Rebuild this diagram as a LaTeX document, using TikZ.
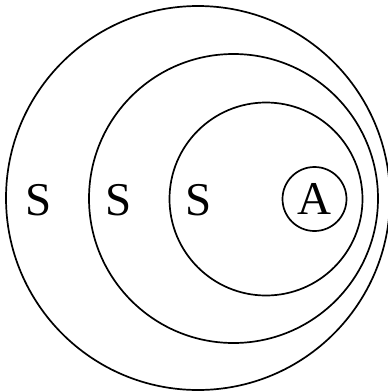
\documentclass[tikz,border=0pt]{standalone}
\usepackage{fontspec}
\setmainfont{Liberation Serif}
\begin{document}
\begin{tikzpicture}[x=1pt, y=-1pt, line width=1.7pt,
    ring/.style={draw, circle, inner sep=0pt},
    letter/.style={font=\fontsize{47}{47}\selectfont, inner sep=0pt}]
    \useasboundingbox (0,0) rectangle (388,392);

    % Kreise
    \node[ring, minimum size=384pt] (outer) at (198,198) {};
    \node[ring, minimum size=289pt] (middle) at (233.5,198.5) {};
    \node[ring, minimum size=193pt] (inner) at (266,199) {};
    \node[ring, minimum size=64pt, letter] (a) at (314.5,199) {A};

    % Buchstaben
    \node[letter] (s1) at (39,200) {S};
    \node[letter] (s2) at (119,200) {S};
    \node[letter] (s3) at (199,200) {S};
\end{tikzpicture}
\end{document}
